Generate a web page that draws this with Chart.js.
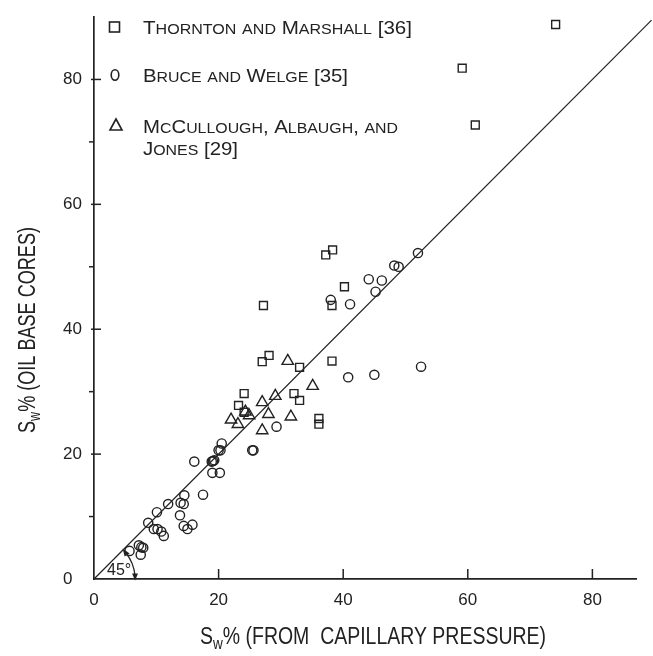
<!DOCTYPE html>
<html><head><meta charset="utf-8">
<script src="https://cdn.jsdelivr.net/npm/chart.js@4.4.1/dist/chart.umd.min.js"></script>
<style>html,body{margin:0;padding:0;background:#fff;}canvas{display:block;}</style>
</head><body>
<canvas id="c" width="653" height="656"></canvas>
<script>
// ---- data ----
const thorntonX = [74.1,59.1,61.2,37.2,38.3,40.2,27.2,38.2,27.0,28.1,38.2,33.0,24.1,32.1,33.0,23.2,24.1,36.1,36.1];
const thorntonY = [88.8,81.8,72.7,51.9,52.7,46.8,43.8,43.8,34.8,35.8,34.9,33.9,29.7,29.7,28.6,27.8,26.7,25.7,24.8];
const bruceX = [52.0,48.2,48.9,44.1,46.2,45.2,41.1,38.0,40.8,45.0,52.5,29.3,25.4,25.6,20.5,20.0,20.3,18.9,19.1,19.3,16.1,19.0,20.2,17.5,14.5,13.9,14.4,11.9,13.8,10.1,8.7,9.6,10.2,10.8,11.2,14.4,15.0,15.8,5.7,7.2,7.6,7.9,7.5];
const bruceY = [52.2,50.2,50.0,48.0,47.8,46.0,44.0,44.7,32.3,32.7,34.0,24.4,20.6,20.6,21.7,20.6,20.6,18.8,18.9,19.0,18.8,17.0,17.0,13.5,13.4,12.2,12.0,12.0,10.2,10.7,9.0,8.0,8.0,7.6,6.9,8.5,8.0,8.7,4.5,5.4,5.1,5.0,3.9];
const mccX = [31.1,35.1,29.1,27.0,22.0,23.1,24.3,24.9,28.0,31.6,27.0];
const mccY = [34.9,30.9,29.3,28.3,25.5,24.8,26.8,26.2,26.4,26.0,23.8];
const lineX = [0, 89.5];
const lineY = [0, 89.5];
const xMajorTicks = [20,40,60,80];
const yMajorTicks = [20,40,60,80];
const yMinorTicks = [10,30,50,70];
const tickLabelValues = [0,20,40,60,80];
const legendLabels = [["Thornton and Marshall [36]"],["Bruce and Welge [35]"],["McCullough, Albaugh, and","Jones [29]"]];
const xTitleParts = ["S","w","% (FROM  CAPILLARY PRESSURE)"];
const yTitleParts = ["S","w","% (OIL BASE CORES)"];
const angleLabel = "45°";

const FF = '"Liberation Sans", Arial, Helvetica, sans-serif';
const INK = '#222222';
const zip = (xs, ys) => xs.map((x, i) => ({x, y: ys[i]}));

function drawFitted(ctx, segs, x, y, targetW, rot) {
  let w = 0;
  segs.forEach(s => { ctx.font = s.size + 'px ' + FF; s.w = ctx.measureText(s.t).width; w += s.w; });
  const k = targetW / w;
  ctx.save();
  ctx.translate(x, y);
  if (rot) ctx.rotate(rot);
  ctx.scale(k, 1);
  ctx.fillStyle = INK;
  ctx.textBaseline = 'alphabetic';
  ctx.textAlign = 'left';
  let cx = 0;
  segs.forEach(s => { ctx.font = s.size + 'px ' + FF; ctx.fillText(s.t, cx, s.dy || 0); cx += s.w; });
  ctx.restore();
}
function smallCapsSegs(text, size) {
  const segs = [];
  for (const ch of text) {
    const lower = ch !== ch.toUpperCase();
    const sz = lower ? size * 0.78 : size;
    const t = ch.toUpperCase();
    const last = segs[segs.length - 1];
    if (last && last.size === sz) last.t += t; else segs.push({t, size: sz});
  }
  return segs;
}

const decor = {
  id: 'decor',
  afterDraw(chart) {
    const ctx = chart.ctx;
    const xs = chart.scales.x, ys = chart.scales.y;
    const x0 = xs.getPixelForValue(0), y0 = ys.getPixelForValue(0);
    ctx.save();
    ctx.strokeStyle = INK;
    ctx.lineWidth = 1.5;
    xMajorTicks.forEach(v => { const p = xs.getPixelForValue(v); ctx.beginPath(); ctx.moveTo(p, y0); ctx.lineTo(p, y0 - 10); ctx.stroke(); });
    yMajorTicks.forEach(v => { const p = ys.getPixelForValue(v); ctx.beginPath(); ctx.moveTo(x0 - 3, p); ctx.lineTo(x0 + 7, p); ctx.stroke(); });
    yMinorTicks.forEach(v => { const p = ys.getPixelForValue(v); ctx.beginPath(); ctx.moveTo(x0 - 5, p); ctx.lineTo(x0, p); ctx.stroke(); });

    // 45 degree annotation
    const r = xs.getPixelForValue(6.6) - x0;
    ctx.lineWidth = 1.3;
    ctx.beginPath();
    ctx.arc(x0, y0, r, -Math.PI / 4 + 0.08, -0.06);
    ctx.stroke();
    ctx.fillStyle = INK;
    const bx = x0 + r * Math.cos(-0.06), by = y0 + r * Math.sin(-0.06);
    ctx.beginPath(); ctx.moveTo(bx, by + 4); ctx.lineTo(bx - 3, by - 3); ctx.lineTo(bx + 3, by - 3); ctx.closePath(); ctx.fill();
    const a = -Math.PI / 4 + 0.02;
    const tx = x0 + r * Math.cos(a), ty = y0 + r * Math.sin(a);
    ctx.beginPath(); ctx.moveTo(tx - 1, ty - 2); ctx.lineTo(tx + 1, ty + 6); ctx.lineTo(tx + 6, ty + 3); ctx.closePath(); ctx.fill();
    ctx.font = '16px ' + FF;
    ctx.textAlign = 'left'; ctx.textBaseline = 'alphabetic';
    ctx.fillText(angleLabel, x0 + 13, y0 - 4);

    // legend
    ctx.lineWidth = 1.6;
    ctx.strokeStyle = INK;
    ctx.strokeRect(109.5, 22, 10, 10);
    ctx.beginPath(); ctx.ellipse(115, 75, 3.8, 5.2, 0, 0, Math.PI * 2); ctx.stroke();
    ctx.beginPath(); ctx.moveTo(116, 119); ctx.lineTo(110, 130); ctx.lineTo(122, 130); ctx.closePath(); ctx.stroke();
    drawFitted(ctx, smallCapsSegs(legendLabels[0][0], 19), 143, 34, 269);
    drawFitted(ctx, smallCapsSegs(legendLabels[1][0], 19), 143, 82, 205);
    drawFitted(ctx, smallCapsSegs(legendLabels[2][0], 19), 143, 133, 255);
    drawFitted(ctx, smallCapsSegs(legendLabels[2][1], 19), 143, 155, 95);

    // axis titles with subscript
    const xt = [{t: xTitleParts[0], size: 23}, {t: xTitleParts[1], size: 16, dy: 5}, {t: xTitleParts[2], size: 23}];
    drawFitted(ctx, xt, 200, 644, 346);
    const yt = [{t: yTitleParts[0], size: 23}, {t: yTitleParts[1], size: 16, dy: 5}, {t: yTitleParts[2], size: 23}];
    drawFitted(ctx, yt, 35, 433, 206, -Math.PI / 2);
    ctx.restore();
  }
};

const pointBase = {borderColor: INK, backgroundColor: 'rgba(0,0,0,0)', borderWidth: 1.4, showLine: false};

new Chart(document.getElementById('c'), {
  type: 'scatter',
  data: {
    datasets: [
      Object.assign({label: legendLabels[0][0], data: zip(thorntonX, thorntonY), pointStyle: 'rect', pointRadius: 5.6}, pointBase),
      Object.assign({label: legendLabels[1][0], data: zip(bruceX, bruceY), pointStyle: 'circle', pointRadius: 4.6}, pointBase),
      Object.assign({label: legendLabels[2].join(' '), data: zip(mccX, mccY), pointStyle: 'triangle', pointRadius: 6.6}, pointBase),
      {type: 'line', label: '45° line', data: zip(lineX, lineY), borderColor: INK, borderWidth: 1.2, pointRadius: 0, fill: false, clip: false, tension: 0}
    ]
  },
  options: {
    responsive: false,
    animation: false,
    devicePixelRatio: 1,
    layout: {padding: {left: 63, top: 17, right: 17, bottom: 0}},
    plugins: {legend: {display: false}, tooltip: {enabled: false}, title: {display: false}},
    scales: {
      x: {
        type: 'linear', min: 0, max: 87,
        grid: {display: true, drawOnChartArea: false, drawTicks: false},
        border: {display: true, color: INK, width: 1.7},
        ticks: {stepSize: 20, autoSkip: false, padding: 11, color: INK, font: {family: FF, size: 17},
          callback: v => tickLabelValues.includes(v) ? String(v) : ''},
        afterFit: s => { s.height = 77; }
      },
      y: {
        type: 'linear', min: 0, max: 90,
        grid: {display: true, drawOnChartArea: false, drawTicks: false},
        border: {display: true, color: INK, width: 1.7},
        ticks: {stepSize: 10, autoSkip: false, padding: 0, crossAlign: 'far', color: INK, font: {family: FF, size: 17},
          callback: v => tickLabelValues.includes(v) ? String(v) : ''},
        afterFit: s => { s.width = 31; }
      }
    }
  },
  plugins: [decor]
});
</script>
</body></html>
